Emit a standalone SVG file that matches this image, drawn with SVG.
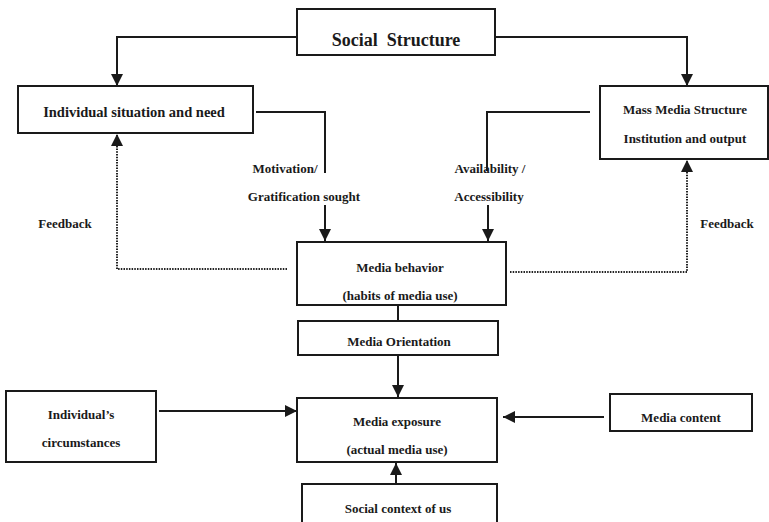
<svg xmlns="http://www.w3.org/2000/svg" width="769" height="522" viewBox="0 0 769 522">
<style>
.box{fill:#fff;stroke:#1a1a1a;stroke-width:2}
.t{font-family:"Liberation Serif","Times New Roman",serif;font-weight:bold;fill:#1a1a1a;text-anchor:middle;font-size:13px}
.big{font-size:18px}
.mid{font-size:14.5px}
.ln{fill:none;stroke:#1a1a1a;stroke-width:2}
.arr{marker-end:url(#ah)}
.dot{fill:none;stroke:#222;stroke-width:2;stroke-dasharray:1.5,1.2}
</style>
<defs>
<marker id="ah" markerUnits="userSpaceOnUse" markerWidth="12" markerHeight="12" refX="12" refY="6" orient="auto">
<path d="M0,0 L12,6 L0,12 z" fill="#1a1a1a"/>
</marker>
</defs>
<g id="connectors">
<polyline class="ln arr" points="297,37 117,37 117,86"/>
<polyline class="ln arr" points="495,37 687,37 687,86"/>
<polyline class="ln" points="256,112 325,112 325,173"/>
<line class="ln arr" x1="325" y1="205" x2="325" y2="241"/>
<polyline class="ln" points="590,112 487,112 487,171"/>
<line class="ln arr" x1="488" y1="205" x2="488" y2="241"/>
<polyline class="dot arr" points="287,269 117,269 117,134"/>
<polyline class="dot arr" points="510,272 687,272 687,160"/>
<line class="ln" x1="398" y1="305" x2="398" y2="321"/>
<line class="ln arr" x1="398" y1="355" x2="398" y2="397"/>
<line class="ln arr" x1="159" y1="411" x2="297" y2="411"/>
<line class="ln arr" x1="604" y1="417" x2="503" y2="417"/>
<line class="ln arr" x1="396" y1="484" x2="396" y2="463"/>
<text class="t" x="285" y="173">Motivation/</text>
<text class="t" x="304" y="201">Gratification sought</text>
<text class="t" x="490" y="173">Availability /</text>
<text class="t" x="489" y="201">Accessibility</text>
<text class="t" x="65" y="228">Feedback</text>
<text class="t" x="727" y="228">Feedback</text>
</g>
<g id="social-structure">
<rect class="box" x="297" y="9" width="198" height="46"/>
<text class="t big" x="396" y="46" xml:space="preserve">Social  Structure</text>
</g>
<g id="individual-situation">
<rect class="box" x="18" y="86" width="235" height="47"/>
<text class="t mid" x="134" y="117">Individual situation and need</text>
</g>
<g id="mass-media-structure">
<rect class="box" x="600" y="86" width="168" height="73"/>
<text class="t" x="685" y="114">Mass Media Structure</text>
<text class="t" x="685" y="143">Institution and output</text>
</g>
<g id="media-behavior">
<rect class="box" x="297" y="242" width="209" height="63"/>
<text class="t" x="400" y="272">Media behavior</text>
<text class="t" x="400" y="300">(habits of media use)</text>
</g>
<g id="media-orientation">
<rect class="box" x="298" y="321" width="200" height="34"/>
<text class="t" x="399" y="346">Media Orientation</text>
</g>
<g id="individuals-circumstances">
<rect class="box" x="6" y="391" width="150" height="71"/>
<text class="t" x="81" y="419">Individual’s</text>
<text class="t" x="81" y="447">circumstances</text>
</g>
<g id="media-exposure">
<rect class="box" x="297" y="398" width="200" height="64"/>
<text class="t" x="397" y="426">Media exposure</text>
<text class="t" x="397" y="454">(actual media use)</text>
</g>
<g id="media-content">
<rect class="box" x="610" y="394" width="142" height="37"/>
<text class="t" x="681" y="422">Media content</text>
</g>
<g id="social-context">
<rect class="box" x="302" y="484" width="195" height="50"/>
<text class="t" x="398" y="513">Social context of us</text>
</g>
</svg>
